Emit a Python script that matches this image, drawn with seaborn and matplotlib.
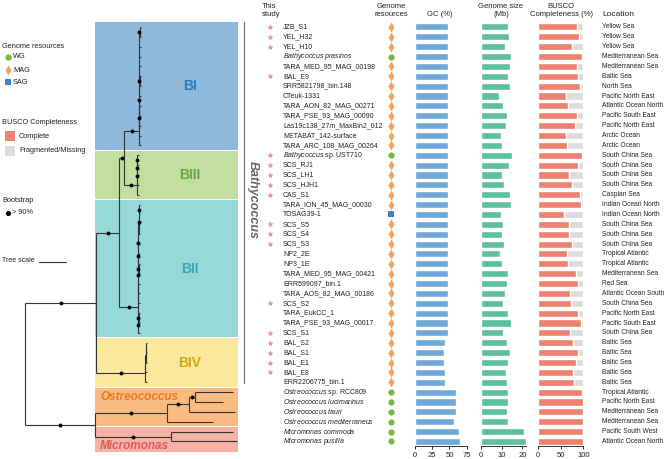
import numpy as np
import pandas as pd
import seaborn as sns
import matplotlib.pyplot as plt
from matplotlib.patches import Rectangle

sns.set_style("white")
plt.rcParams["font.family"] = ["Liberation Sans", "DejaVu Sans"]
plt.rcParams["mathtext.fontset"] = "custom"
plt.rcParams["mathtext.rm"] = "Liberation Sans"
plt.rcParams["mathtext.it"] = "Liberation Sans:italic"

# ---- data ----
taxa = [
    "JZB_S1", "YEL_H32", "YEL_H10", r"$\it{Bathycoccus\ prasinos}$", "TARA_MED_95_MAG_00198",
    "BAL_E9", "SRR5821798_bin.148", "CTeuk-1331", "TARA_AON_82_MAG_00271", "TARA_PSE_93_MAG_00090",
    "Las19c138_27m_MaxBin2_012", "METABAT_142-surface", "TARA_ARC_108_MAG_00264",
    r"$\it{Bathycoccus}$ sp. UST710", "SCS_RJ1", "SCS_LH1", "SCS_HJH1", "CAS_S1",
    "TARA_ION_45_MAG_00030", "TOSAG39-1", "SCS_S5", "SCS_S4", "SCS_S3", "NP2_2E", "NP3_1E",
    "TARA_MED_95_MAG_00421", "ERR599097_bin.1", "TARA_AOS_82_MAG_00186", "SCS_S2", "TARA_EukCC_1",
    "TARA_PSE_93_MAG_00017", "SCS_S1", "BAL_S2", "BAL_S1", "BAL_E1", "BAL_E8", "ERR2206775_bin.1",
    r"$\it{Ostreococcus}$ sp. RCC809", r"$\it{Ostreococcus\ lucimarinus}$", r"$\it{Ostreococcus\ tauri}$",
    r"$\it{Ostreococcus\ mediterraneus}$", r"$\it{Micromonas\ commoda}$", r"$\it{Micromonas\ pusilla}$",
]
this_study = [1, 1, 1, 0, 0, 1, 0, 0, 0, 0, 0, 0, 0, 1, 1, 1, 1, 1, 0, 0, 1, 1, 1, 0, 0, 0, 0, 0,
              1, 0, 0, 1, 1, 1, 1, 1, 0, 0, 0, 0, 0, 0, 0]
resource = ["MAG"] * 3 + ["WG"] + ["MAG"] * 9 + ["WG"] + ["MAG"] * 5 + ["SAG"] + ["MAG"] * 17 + ["WG"] * 6
gc = [48, 48, 48, 48, 48, 48, 48, 48, 47.6, 47.6, 47.6, 47.6, 47.6, 48, 48, 48, 48, 48, 47.6, 47.6,
      48, 48, 48, 47.6, 47.6, 47.6, 47.6, 47.6, 47.6, 48, 47.6, 48, 43, 42.7, 42.7, 43, 43,
      59.5, 60.2, 59, 56, 63.5, 65.4]
genome_size = [13.0, 13.4, 11.7, 14.7, 13.9, 13.0, 13.9, 8.6, 10.7, 12.8, 12.0, 9.6, 10.4, 15.0,
               13.6, 10.1, 11.2, 13.9, 14.4, 9.8, 10.6, 10.2, 11.2, 9.3, 10.1, 13.1, 12.6, 11.7,
               10.8, 13.0, 14.6, 10.9, 12.5, 13.8, 13.0, 12.2, 12.5, 13.1, 13.0, 12.6, 13.3, 20.6, 21.6]
busco_complete = [86.7, 90.4, 75.6, 97.8, 86.7, 87.4, 93.3, 61.5, 65.9, 85.9, 82.2, 61.5, 63.0, 97.8,
                  88.9, 67.4, 74.8, 92.6, 95.6, 57.0, 68.1, 67.4, 74.8, 63.7, 65.9, 84.4, 88.9, 70.4,
                  72.6, 88.9, 95.6, 70.4, 77.8, 88.1, 84.4, 77.0, 78.5, 98.0, 99.0, 98.5, 98.5, 99.0, 98.5]
location = [
    "Yellow Sea", "Yellow Sea", "Yellow Sea", "Mediterranean Sea", "Mediterranean Sea", "Baltic Sea",
    "North Sea", "Pacific North East", "Atlantic Ocean North", "Pacific South East", "Pacific North East",
    "Arctic Ocean", "Arctic Ocean", "South China Sea", "South China Sea", "South China Sea",
    "South China Sea", "Caspian Sea", "Indian Ocean North", "Indian Ocean North", "South China Sea",
    "South China Sea", "South China Sea", "Tropical Atlantic", "Tropical Atlantic", "Mediterranean Sea",
    "Red Sea", "Atlantic Ocean South", "South China Sea", "Pacific North East", "Pacific South East",
    "South China Sea", "Baltic Sea", "Baltic Sea", "Baltic Sea", "Baltic Sea", "Baltic Sea",
    "Tropical Atlantic", "Pacific North East", "Mediterranean Sea", "Mediterranean Sea",
    "Pacific South West", "Atlantic Ocean North",
]

clades = ["BI", "BIII", "BII", "BIV", "Ostreococcus", "Micromonas"]
clade_rows = [(0, 12), (13, 17), (18, 31), (32, 36), (37, 40), (41, 42)]
clade_fill = ["#8fb9da", "#c2dfa1", "#97d8d9", "#fce99d", "#f9bc80", "#f7b1a7"]
clade_text = ["#2b7bba", "#6ba745", "#38a9b7", "#d6a21f", "#eb7a1e", "#de5b57"]

res_style = {"WG": ("o", "#78b943", 20), "MAG": ("d", "#f5a45a", 26), "SAG": ("s", "#3a86c8", 13)}

df = pd.DataFrame({"taxon": taxa, "gc": gc, "size": genome_size, "busco": busco_complete})
df["full"] = 100


# ---- tree (x = branch position in tree-panel pixels) ----
def N(x, children, sup=False):
    return {"x": x, "children": children, "sup": sup}


def L(row, x):
    return {"x": x, "row": row}


def leaves(rows, x):
    return [L(r, x) for r in rows]


bi = N(139.0, [N(139.1, [N(139.2, [N(139.3, [N(139.6, leaves([0, 1], 140.5), True)] + leaves([2, 3, 4], 140.5)
                                                + [N(139.6, leaves([5, 6], 140.5), True)] + leaves([7, 8, 9], 140.5)),
                                          L(10, 140.5)], True), L(11, 140.5)], True), L(12, 140.5)], True)
biii = N(136.7, [N(136.9, [N(137.1, [N(137.3, leaves([13, 14], 138.5), True), L(15, 138.5)], True),
                          L(16, 138.5)], True), L(17, 138.5)], True)
a5 = N(138.6, [N(138.8, leaves([18, 19], 140), True), L(20, 140), L(21, 140)], True)
a3 = N(138.3, [N(138.4, [a5, L(22, 140)]), L(23, 140)], True)
a1 = N(138.15, [N(138.2, [a3, N(138.5, leaves([24, 25], 140), True)], True), L(26, 140), L(27, 140)], True)
bii = N(138.0, [N(138.1, [a1, L(28, 140)]),
                N(138.3, [N(138.5, leaves([29, 30], 140), True), L(31, 140)], True)], True)
biv = N(145.3, [N(145.4, [N(145.5, [N(145.6, leaves([32, 33], 146.5)), L(34, 146.5)]), L(35, 146.5)]),
                L(36, 146.5)], True)
ost = N(167, [N(188.7, [N(195.3, [L(37, 233), L(38, 223)], True), L(39, 235)], True), L(40, 212.7)], True)
mic = N(170.7, [L(41, 233), L(42, 237)], True)
tree = N(25, [N(96, [N(119.3, [N(124.3, [bi, biii], True), bii], True), biv], True),
              N(95, [ost, mic], True)])

# ---- figure ----
W, H = 666, 459
fig = plt.figure(figsize=(W / 100, H / 100), dpi=100)
top, bot = 22, 446.4
rowbox = [0, 1 - bot / H, 1, (bot - top) / H]
ax = fig.add_axes(rowbox)
ax.set_xlim(0, W)
ax.set_ylim(42.5, -0.5)
ax.axis("off")

# clade boxes
for name, (r0, r1), fc, tc in zip(clades, clade_rows, clade_fill, clade_text):
    y0 = r0 - 0.45
    y1 = r1 + (0.45 if name != "Micromonas" else 1.05)
    ax.add_patch(Rectangle((95, y0), 142.5, y1 - y0, facecolor=fc, edgecolor="none", clip_on=False, zorder=0))
    if name.startswith("B"):
        ax.text(190, (y0 + y1) / 2, name, color=tc, fontsize=10, fontweight="bold",
                ha="center", va="center")
    elif name == "Ostreococcus":
        ax.text(100, r0 + 0.45, name, color=tc, fontsize=8.5, fontweight="bold", style="italic",
                ha="left", va="center")
    else:
        ax.text(100, r1 + 0.45, name, color=tc, fontsize=8.5, fontweight="bold", style="italic",
                ha="left", va="center")

lc = "#333333"


def draw(node):
    if "row" in node:
        return node["row"]
    ys = [draw(c) for c in node["children"]]
    y = (ys[0] + ys[-1]) / 2
    ax.plot([node["x"], node["x"]], [ys[0], ys[-1]], color=lc, lw=0.8, zorder=2, solid_capstyle="butt")
    for c, cy in zip(node["children"], ys):
        ax.plot([node["x"], c["x"]], [cy, cy], color=lc, lw=0.8, zorder=2, solid_capstyle="butt")
        if "children" in c and c["sup"]:
            ax.scatter([(node["x"] + c["x"]) / 2], [cy], s=8, color="black", zorder=3, linewidths=0)
    return y


draw(tree)

# Bathycoccus bracket
ax.plot([244, 244], [-0.5, 36.1], color="#777777", lw=0.9, clip_on=False)
ax.text(253, 17.5, "Bathycoccus", rotation=270, style="italic", fontweight="bold", color="#666666",
        fontsize=9, ha="center", va="center")

rows = np.arange(len(taxa))
star_rows = rows[np.array(this_study) == 1]
ax.scatter(np.full(len(star_rows), 270), star_rows, marker="*", s=24, color="#e884bb", linewidths=0)
for r, t, loc in zip(rows, taxa, location):
    ax.text(283, r, t, fontsize=5, va="center", ha="left", color="#222222")
    ax.text(602, r, loc, fontsize=4.75, va="center", ha="left", color="#222222")
for kind, (m, c, s) in res_style.items():
    rr = [r for r in rows if resource[r] == kind]
    ax.scatter(np.full(len(rr), 391), rr, marker=m, s=s, color=c, linewidths=0)

# ---- bar panels ----
panels = [
    ("gc", 415, 466.7, (0, 75), [0, 25, 50, 75], "#6fa7d7"),
    ("size", 480.7, 526, (0, 21.7), [0, 10, 20], "#5dbf9b"),
    ("busco", 538.3, 583.3, (0, 100), [0, 50, 100], "#ec8170"),
]
for col, x0, x1, lim, ticks, color in panels:
    bax = fig.add_axes([x0 / W, rowbox[1], (x1 - x0) / W, rowbox[3]])
    if col == "busco":
        sns.barplot(data=df, x="full", y="taxon", color="#dcdcdc", saturation=1, width=0.72, ax=bax)
    sns.barplot(data=df, x=col, y="taxon", color=color, saturation=1, width=0.72, ax=bax)
    bax.set_xlim(*lim)
    bax.set_ylim(42.5, -0.5)
    bax.set_xticks(ticks)
    bax.set_yticks([])
    bax.set_xlabel("")
    bax.set_ylabel("")
    bax.patch.set_alpha(0)
    for sp in ["top", "right", "left"]:
        bax.spines[sp].set_visible(False)
    bax.spines["bottom"].set_color("#333333")
    bax.spines["bottom"].set_linewidth(0.7)
    bax.tick_params(axis="x", bottom=True, length=2.5, width=0.7, pad=1.5, labelsize=5.5, colors="#222222")

# ---- headers and legend (figure pixel coords) ----
ov = fig.add_axes([0, 0, 1, 1], zorder=-1)
ov.set_xlim(0, W)
ov.set_ylim(H, 0)
ov.axis("off")
hd = dict(fontsize=5.5, color="#222222", va="center", linespacing=1.2)
ov.text(262, 11, "This\nstudy", ha="left", **hd)
ov.text(391, 11, "Genome\nresources", ha="center", **hd)
ov.text(440, 15, "GC (%)", ha="center", **hd)
ov.text(501, 11, "Genome size\n(Mb)", ha="center", **hd)
ov.text(561, 11, "BUSCO\nCompleteness (%)", ha="center", **hd)
ov.text(602, 14, "Location", ha="left", fontsize=6, color="#222222", va="center")

lg = dict(fontsize=5.3, color="#222222", va="center", ha="left")
ov.text(2, 47, "Genome resources", **lg)
for (kind, (m, c, s)), yy in zip(res_style.items(), [57, 70, 82]):
    ov.scatter([8], [yy], marker=m, s=s, color=c, linewidths=0)
    ov.text(13, yy, kind, **lg)
ov.text(2, 123, "BUSCO Completeness", **lg)
ov.add_patch(Rectangle((5, 131), 10, 10, facecolor="#ec8170", edgecolor="none"))
ov.add_patch(Rectangle((5, 146), 10, 10, facecolor="#dcdcdc", edgecolor="none"))
ov.text(19, 136, "Complete", **lg)
ov.text(19, 151, "Fragmented/Missing", **lg)
ov.text(2, 201, "Bootstrap", **lg)
ov.scatter([8], [213], s=14, color="black", linewidths=0)
ov.text(12, 213, "> 90%", **lg)
ov.text(2, 261, "Tree scale", fontsize=5, color="#222222", va="center", ha="left")
ov.plot([39, 66], [262, 262], color="#333333", lw=0.8)

fig.savefig("out.png", dpi=100)
